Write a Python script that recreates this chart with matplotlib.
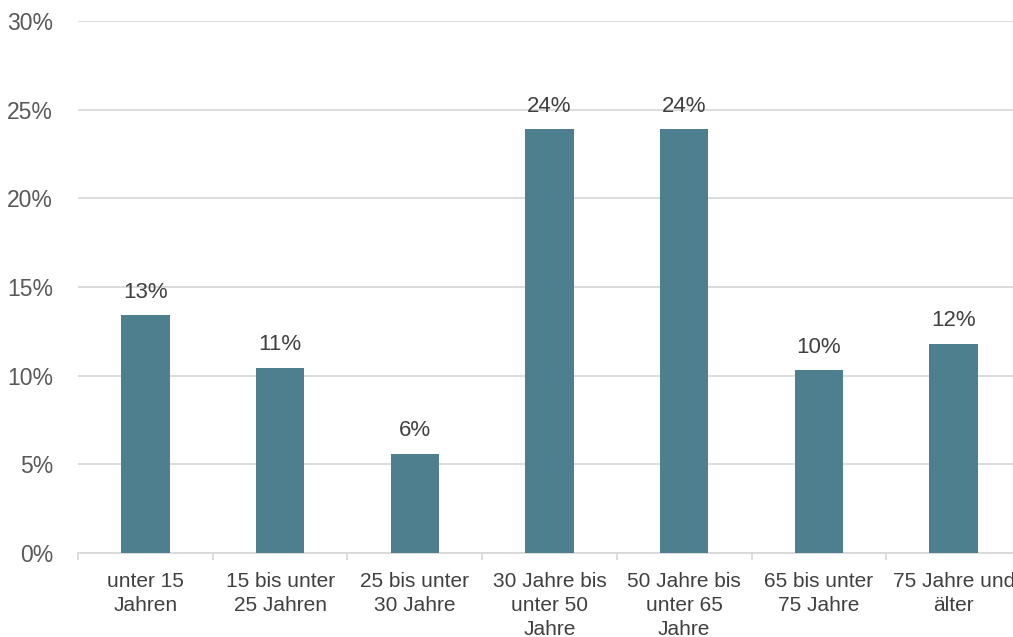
import numpy as np
import matplotlib.pyplot as plt
from matplotlib.ticker import FuncFormatter, FixedLocator

plt.rcParams['font.family'] = ['Liberation Sans', 'DejaVu Sans']

# Altersgruppen und Anteile
categories = ["unter 15\nJahren", "15 bis unter\n25 Jahren", "25 bis unter\n30 Jahre",
              "30 Jahre bis\nunter 50\nJahre", "50 Jahre bis\nunter 65\nJahre",
              "65 bis unter\n75 Jahre", "75 Jahre und\nälter"]
values = [13.4, 10.45, 5.6, 23.9, 23.9, 10.3, 11.8]
labels = ["13%", "11%", "6%", "24%", "24%", "10%", "12%"]

bar_color = "#4E7F8E"
text_color = "#404040"
grid_color = "#D9D9D9"

fig = plt.figure(figsize=(10.13, 6.37), dpi=100)
ax = fig.add_axes([78 / 1013, (637 - 553) / 637, 943 / 1013, (553 - 21) / 637])

x = np.arange(len(categories))
ax.bar(x, values, width=0.36, color=bar_color, zorder=3)

for xi, v, lab in zip(x, values, labels):
    ax.annotate(lab, (xi, v), xytext=(0, 9), textcoords="offset points",
                ha="center", va="bottom", fontsize=16, color=text_color)

ax.set_xlim(-0.5, len(categories) - 0.5)
ax.set_ylim(0, 30)
ax.set_yticks(np.arange(0, 31, 5))
ax.yaxis.set_major_formatter(FuncFormatter(lambda v, p: f"{v:.0f}%"))
ax.grid(axis="y", color=grid_color, linewidth=1.3, zorder=0)

ax.set_xticks(x)
ax.set_xticklabels(categories, fontsize=15, color=text_color, linespacing=1.32)
ax.xaxis.set_minor_locator(FixedLocator(np.arange(-0.5, len(categories), 1.0)))
ax.tick_params(axis="x", which="major", length=0, pad=14)
ax.tick_params(axis="x", which="minor", length=5, color=grid_color, width=1.3)
ax.tick_params(axis="y", length=0, labelsize=16.5, labelcolor="#595959", pad=18)

for s in ["top", "right", "left"]:
    ax.spines[s].set_visible(False)
ax.spines["bottom"].set_color(grid_color)
ax.spines["bottom"].set_linewidth(1.3)

fig.savefig("out.png", dpi=100)
